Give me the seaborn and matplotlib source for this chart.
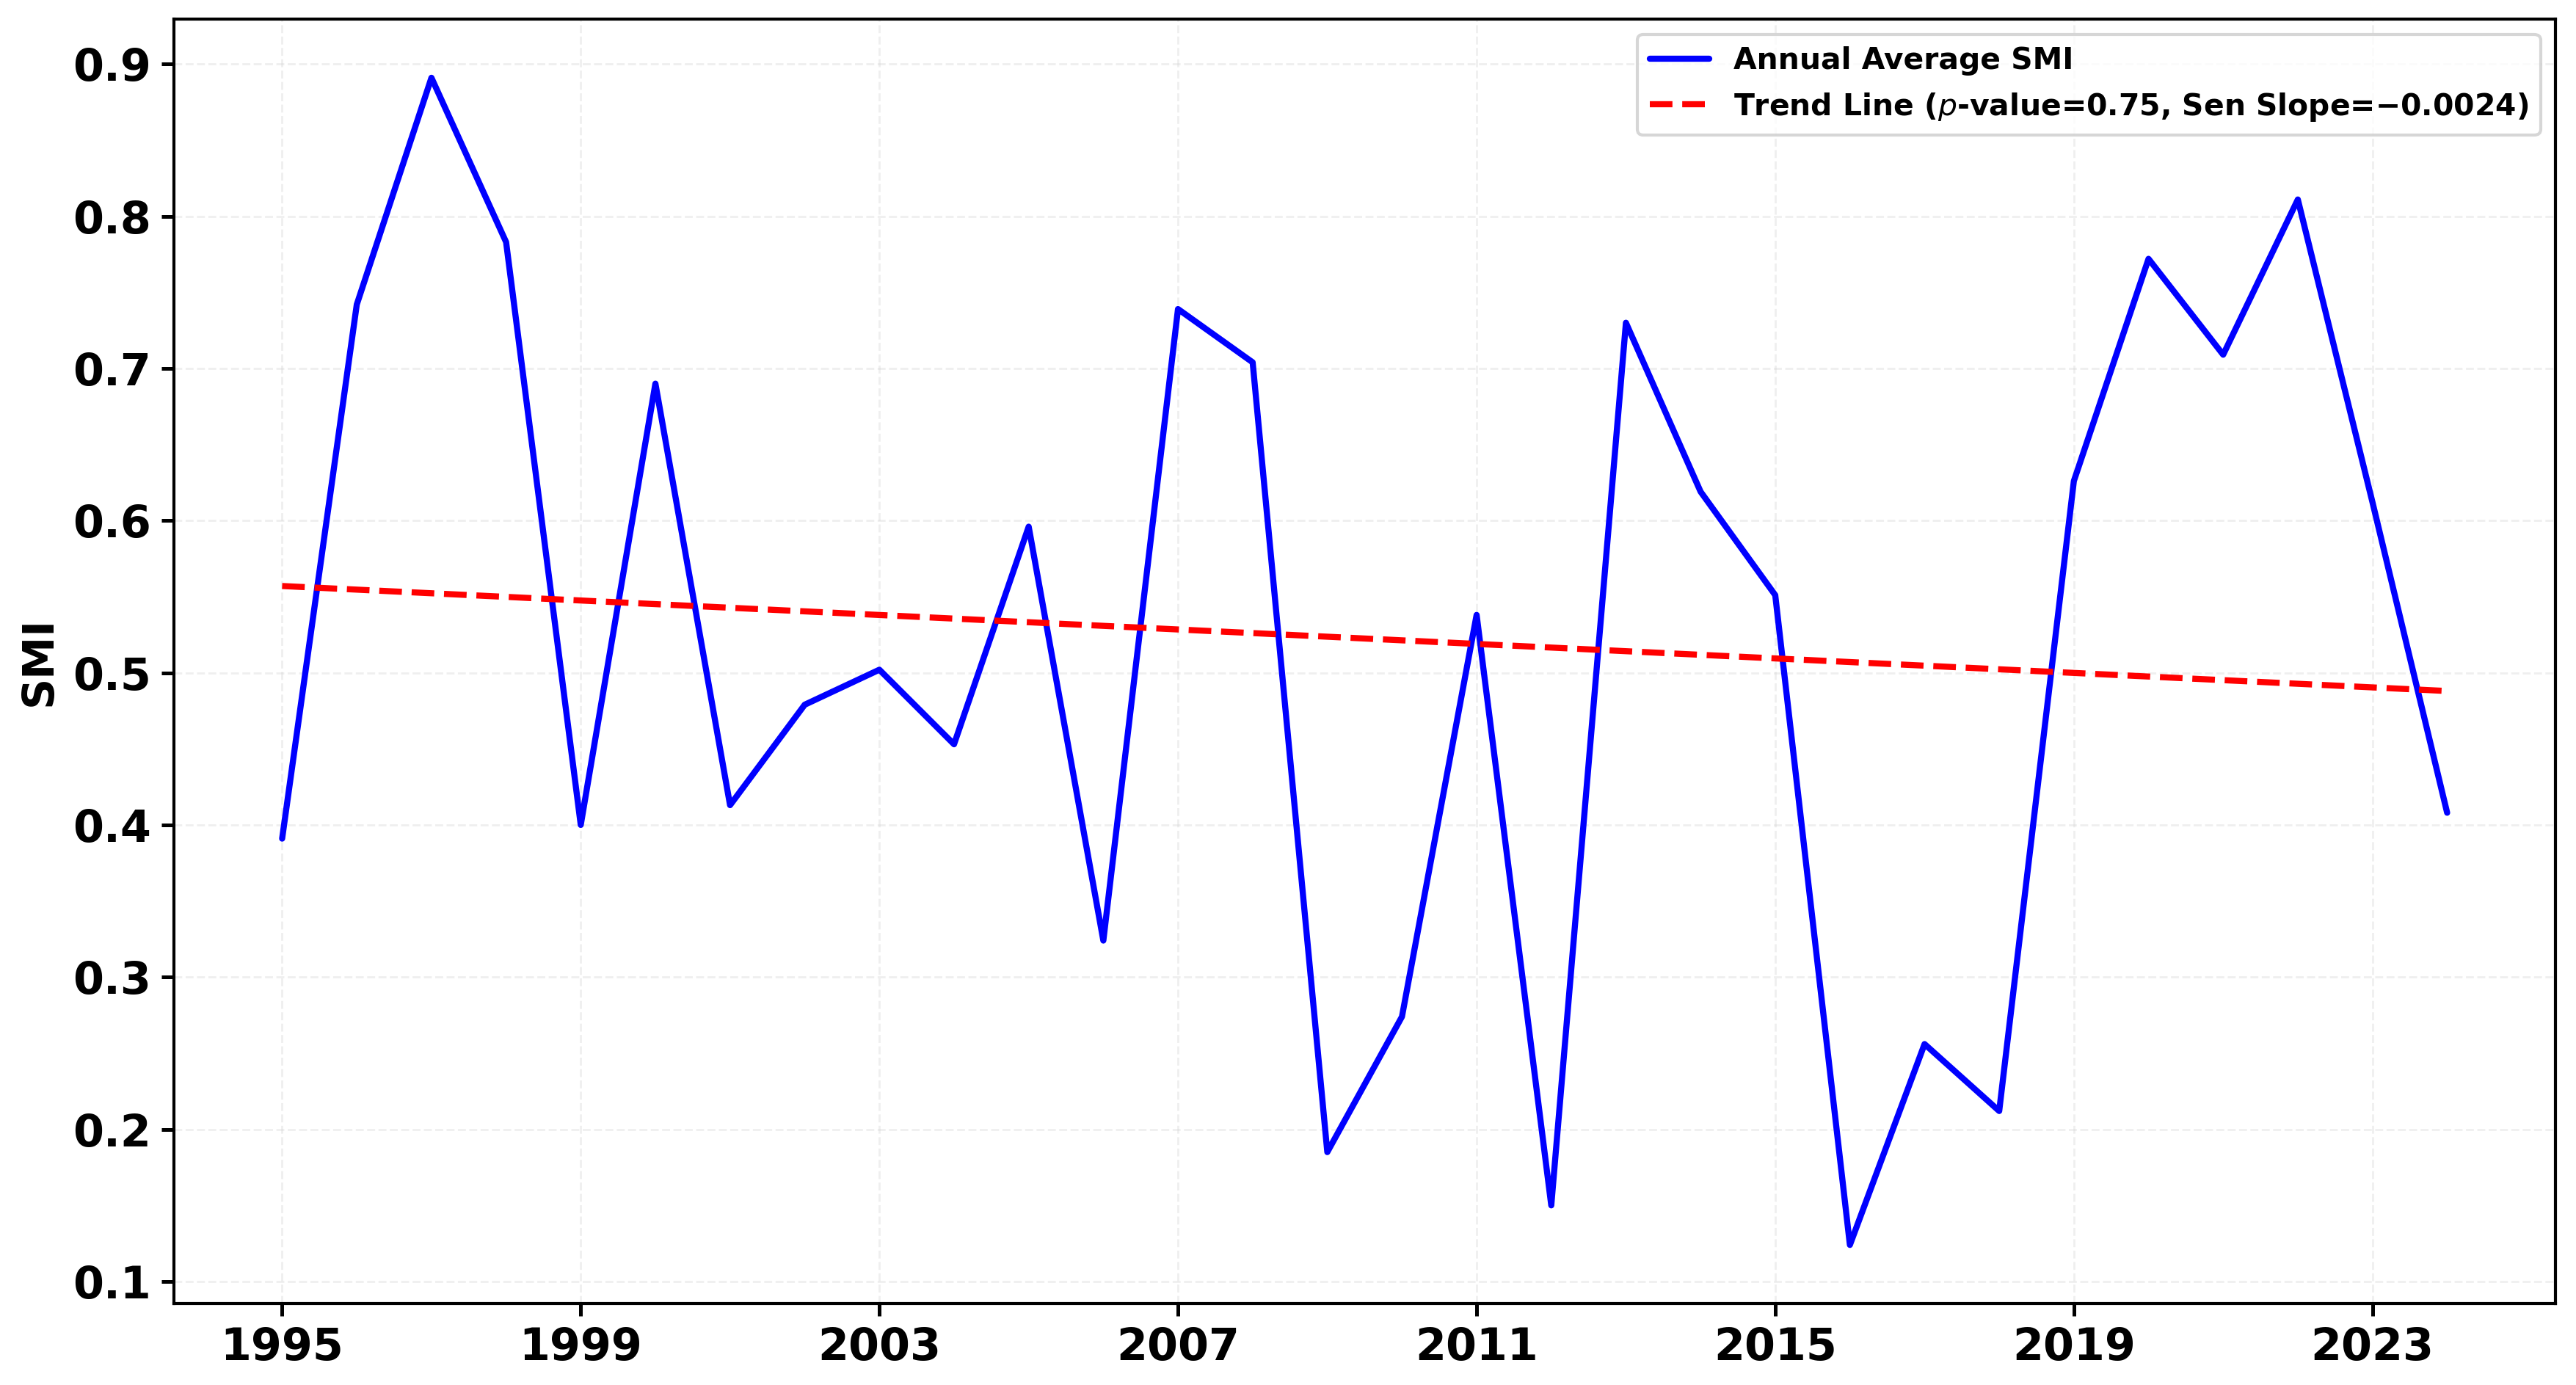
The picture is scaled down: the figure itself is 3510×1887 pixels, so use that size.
import pandas as pd
import matplotlib
matplotlib.use("Agg")
import matplotlib.pyplot as plt
import seaborn as sns

# Datos (promedio anual del SMI)
years = list(range(1995, 2025))
smi = [0.391, 0.742, 0.891, 0.783, 0.400, 0.690, 0.413, 0.479, 0.502, 0.453,
       0.596, 0.324, 0.739, 0.704, 0.185, 0.274, 0.538, 0.150, 0.730, 0.619,
       0.551, 0.124, 0.256, 0.212, 0.626, 0.772, 0.709, 0.811, 0.612, 0.408]

# Extremos de la línea de tendencia (Sen)
trend_years = [1995, 2024]
trend_values = [0.557, 0.488]

p_value = 0.75
sen_slope = -0.0024
y_ticks = [0.1, 0.2, 0.3, 0.4, 0.5, 0.6, 0.7, 0.8, 0.9]

sns.set_style("ticks")
plt.rcParams['font.family'] = ['DejaVu Sans']
plt.rcParams['text.color'] = 'black'
plt.rcParams['xtick.color'] = 'black'
plt.rcParams['ytick.color'] = 'black'
plt.rcParams['axes.labelcolor'] = 'black'

df = pd.DataFrame({'year': years, 'smi': smi})
df_trend = pd.DataFrame({'year': trend_years, 'smi': trend_values})

fig, ax = plt.subplots(figsize=(11.7, 6.29), dpi=300)
fig.subplots_adjust(left=0.0675, right=0.992, bottom=0.059, top=0.986)

slope_txt = f'{sen_slope:.4f}'.replace('-', '\u2212')
sns.lineplot(data=df, x='year', y='smi', ax=ax, color='blue', linewidth=2,
             label='Annual Average SMI')
sns.lineplot(data=df_trend, x='year', y='smi', ax=ax, color='red', linewidth=2,
             linestyle='--',
             label=f'Trend Line ($p$-value={p_value}, Sen Slope={slope_txt})')

ax.set_xticks(list(range(1995, 2025, 4)))
ax.set_yticks(y_ticks)
ax.set_yticklabels([f'{v:.1f}' for v in y_ticks])
ax.tick_params(axis='both', labelsize=14.5, width=1.2, length=4, colors='black')
for lbl in ax.get_xticklabels() + ax.get_yticklabels():
    lbl.set_fontweight('bold')

ax.set_xlabel('')
ax.set_ylabel('SMI', fontsize=14, fontweight='bold')
ax.grid(True, linestyle='--', color='lightgrey', alpha=0.35, linewidth=0.7)

for spine in ax.spines.values():
    spine.set_visible(True)
    spine.set_color('black')
    spine.set_linewidth(1.0)

ax.legend(loc='upper right', prop={'weight': 'bold', 'size': 9.8})

plt.savefig('out.png', dpi=300)
plt.close()
